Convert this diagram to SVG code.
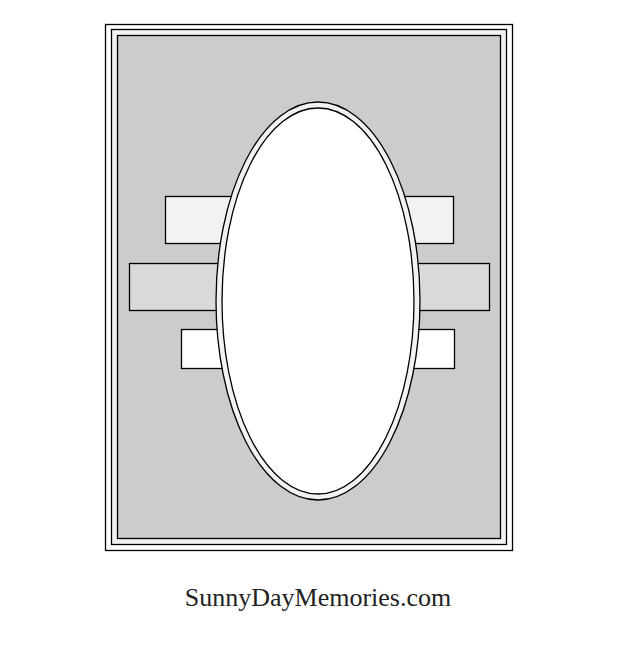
<svg xmlns="http://www.w3.org/2000/svg" width="625" height="647" viewBox="0 0 625 647">
<style>
.s{stroke:#000;stroke-width:1.3}
</style>
<rect width="625" height="647" fill="#fff"/>
<g id="frame">
<rect class="s" x="105.5" y="24.5" width="407" height="526" fill="#fff"/>
<rect class="s" x="111.5" y="29.5" width="395" height="515" fill="#f2f2f2"/>
<rect class="s" x="117.5" y="35.5" width="383" height="503" fill="#cccccc"/>
</g>
<g id="strips">
<rect class="s" x="165.5" y="196.5" width="288" height="47" fill="#f2f2f2"/>
<rect class="s" x="129.5" y="263.5" width="360" height="47" fill="#d9d9d9"/>
<rect class="s" x="181.5" y="329.5" width="273" height="39" fill="#fff"/>
</g>
<g id="oval">
<ellipse class="s" cx="318" cy="301" rx="102" ry="199" fill="#f2f2f2"/>
<ellipse class="s" cx="318" cy="301" rx="96" ry="193" fill="#fff"/>
</g>
<text x="318" y="606" text-anchor="middle" font-family="'Liberation Serif', serif" font-size="26" fill="#222">SunnyDayMemories.com</text>
</svg>
